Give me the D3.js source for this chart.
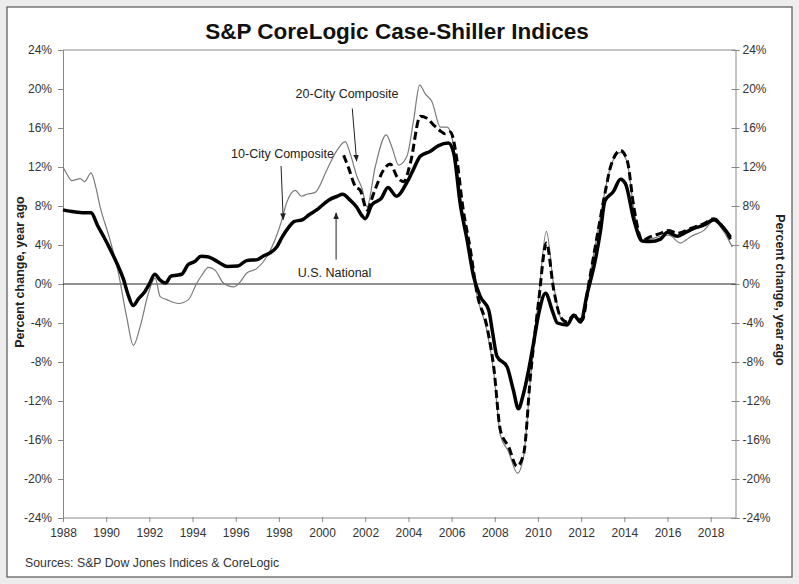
<!DOCTYPE html>
<html>
  <head>
    <meta charset='utf-8'>
    <style>
      body { margin: 0; background: #ededed; }
      svg { display: block; }
      text { font-family: "Liberation Sans", Arial, sans-serif; fill: #222; }
    </style>
  </head>
<body>
<div id="chart"></div>
<script src="https://d3js.org/d3.v7.min.js"></script>
<script type="text/javascript">

  // --------------------------- data (decimal year, % change y/y) --------------------------
  var national = [
    [1988.0,7.6],[1988.5,7.4],[1989.0,7.3],[1989.3,7.3],[1989.6,6.0],[1989.9,4.8],[1990.2,3.5],
    [1990.5,2.1],[1990.8,0.5],[1991.0,-1.0],[1991.25,-2.2],[1991.5,-1.5],[1991.75,-0.9],[1992.0,0.0],
    [1992.25,1.0],[1992.5,0.4],[1992.75,0.1],[1993.0,0.8],[1993.25,0.9],[1993.5,1.0],[1993.8,2.0],
    [1994.1,2.3],[1994.4,2.85],[1994.7,2.8],[1995.0,2.5],[1995.3,2.1],[1995.6,1.8],[1996.1,1.85],
    [1996.5,2.4],[1997.0,2.5],[1997.3,2.9],[1997.6,3.2],[1997.9,3.8],[1998.15,4.8],[1998.45,5.8],
    [1998.7,6.4],[1999.1,6.6],[1999.4,7.1],[1999.75,7.6],[2000.3,8.6],[2000.7,9.0],[2000.95,9.2],
    [2001.3,8.6],[2001.6,7.9],[2001.85,7.0],[2002.0,6.7],[2002.3,8.1],[2002.75,8.8],[2003.05,9.9],
    [2003.45,9.0],[2003.9,10.3],[2004.2,11.6],[2004.55,13.1],[2005.0,13.6],[2005.4,14.2],[2005.85,14.45],
    [2006.1,13.4],[2006.4,8.2],[2006.72,4.5],[2007.02,0.75],[2007.33,-1.3],[2007.72,-2.7],[2007.9,-5.0],
    [2008.1,-7.4],[2008.57,-8.5],[2008.85,-10.8],[2009.1,-12.8],[2009.3,-11.5],[2009.57,-8.8],[2009.8,-6.0],
    [2010.04,-3.0],[2010.35,-0.96],[2010.66,-2.7],[2010.9,-4.0],[2011.35,-4.2],[2011.66,-3.2],[2011.97,-3.9],
    [2012.28,-1.0],[2012.66,2.5],[2012.9,5.5],[2013.1,8.5],[2013.5,9.5],[2013.82,10.75],[2014.05,10.3],
    [2014.44,6.6],[2014.83,4.4],[2015.2,4.35],[2015.68,4.6],[2016.0,5.3],[2016.45,4.9],[2016.76,5.2],
    [2017.22,5.7],[2017.69,6.05],[2018.15,6.6],[2018.54,5.9],[2018.92,4.8]
  ];

  var city10 = [
    [1988.0,12.0],[1988.2,11.2],[1988.4,10.6],[1988.8,10.8],[1989.0,10.5],[1989.3,11.4],[1989.48,10.3],
    [1989.7,8.1],[1990.18,4.5],[1990.57,1.1],[1990.95,-3.4],[1991.26,-6.3],[1991.57,-4.4],[1991.95,-1.0],
    [1992.27,0.6],[1992.5,-1.3],[1992.8,-1.6],[1993.35,-2.0],[1993.81,-1.6],[1994.2,0.1],[1994.43,0.9],
    [1994.74,1.7],[1995.05,1.4],[1995.43,0.1],[1995.9,-0.3],[1996.2,0.2],[1996.5,1.1],[1996.98,1.6],
    [1997.44,2.8],[1997.9,5.0],[1998.1,6.3],[1998.37,8.4],[1998.76,9.6],[1999.05,9.0],[1999.3,9.2],
    [1999.68,9.4],[2000.22,11.7],[2000.69,13.7],[2001.07,14.6],[2001.3,13.4],[2001.62,11.0],[2001.85,9.8],
    [2002.08,7.9],[2002.46,12.0],[2002.97,15.3],[2003.24,14.0],[2003.55,12.2],[2003.93,13.1],[2004.24,16.8],
    [2004.52,20.4],[2004.78,19.5],[2005.09,18.7],[2005.48,16.1],[2005.79,16.1],[2006.0,15.2],[2006.25,11.7],
    [2006.5,7.5],[2006.87,3.0],[2007.18,-1.2],[2007.64,-4.8],[2007.95,-9.0],[2008.26,-15.5],[2008.64,-17.2],
    [2009.05,-19.4],[2009.34,-17.6],[2009.65,-9.8],[2010.04,-1.2],[2010.39,5.4],[2010.73,-0.2],[2011.04,-3.4],
    [2011.35,-4.1],[2011.66,-3.4],[2012.05,-3.6],[2012.36,0.3],[2012.82,6.0],[2013.13,9.8],[2013.36,12.0],
    [2013.82,13.5],[2014.13,12.5],[2014.44,7.7],[2014.83,4.4],[2015.22,4.6],[2015.68,4.9],[2016.07,5.0],
    [2016.6,4.2],[2016.85,4.5],[2017.07,4.85],[2017.69,5.5],[2018.15,6.5],[2018.54,5.6],[2019.0,3.8]
  ];

  var city20 = [
    [2001.0,13.2],[2001.23,11.9],[2001.54,10.0],[2001.77,9.6],[2002.08,7.6],[2002.39,9.3],[2002.85,11.7],
    [2003.16,12.3],[2003.47,11.0],[2003.78,10.5],[2004.09,12.4],[2004.55,17.2],[2004.86,17.0],[2005.17,16.3],
    [2005.48,15.7],[2005.7,15.4],[2005.94,15.6],[2006.25,12.7],[2006.5,8.2],[2006.87,3.5],[2007.18,-0.96],
    [2007.64,-4.4],[2007.95,-8.5],[2008.26,-15.0],[2008.64,-16.7],[2009.03,-18.7],[2009.34,-17.4],[2009.65,-9.5],
    [2010.04,-1.6],[2010.39,4.2],[2010.73,-0.6],[2011.04,-3.35],[2011.35,-3.9],[2011.66,-3.2],[2012.05,-3.7],
    [2012.36,0.1],[2012.82,5.9],[2013.13,9.6],[2013.36,12.0],[2013.82,13.7],[2014.13,12.7],[2014.44,7.9],
    [2014.83,4.5],[2015.22,4.85],[2015.68,5.2],[2016.07,5.5],[2016.45,5.2],[2017.07,5.7],[2017.69,6.2],
    [2018.15,6.7],[2018.54,5.9],[2018.92,4.6]
  ];

  var yearTicks = [1988,1990,1992,1994,1996,1998,2000,2002,2004,2006,2008,2010,2012,2014,2016,2018];
  var pctTicks = [-24,-20,-16,-12,-8,-4,0,4,8,12,16,20,24];

  // --------------------------- layout --------------------------
  var W = 799, H = 584;
  var margin = {top: 50, right: 63.5, bottom: 66, left: 63},
      width = W - margin.left - margin.right,
      height = H - margin.top - margin.bottom;

  var x = d3.scaleLinear().domain([1988, 2019.15]).range([0, width]);
  var y = d3.scaleLinear().domain([-24, 24]).range([height, 0]);

  var svg = d3.select("#chart").append("svg")
      .attr("width", W).attr("height", H);

  // frame
  svg.append("rect")
      .attr("x", 7).attr("y", 7).attr("width", 785).attr("height", 570)
      .attr("fill", "#fff").attr("stroke", "#555").attr("stroke-width", 1.2);

  svg.append("text")
      .attr("x", 397).attr("y", 39)
      .attr("text-anchor", "middle")
      .style("font-size", "22.5px").style("font-weight", "bold").style("fill", "#111")
      .text("S&P CoreLogic Case-Shiller Indices");

  var g = svg.append("g")
      .attr("transform", "translate(" + [margin.left, margin.top] + ")");

  // top border
  g.append("line")
      .attr("x1", 0).attr("x2", width).attr("y1", 0).attr("y2", 0)
      .attr("stroke", "#888").attr("stroke-width", 1);

  var yAxisL = d3.axisLeft(y).tickValues(pctTicks).tickSize(5).tickPadding(6)
      .tickFormat(function(d){ return d + "%"; });
  var yAxisR = d3.axisRight(y).tickValues(pctTicks).tickSize(4).tickPadding(3)
      .tickFormat(function(d){ return d + "%"; });
  var xAxis = d3.axisBottom(x).tickValues(yearTicks).tickSize(4).tickPadding(6)
      .tickFormat(d3.format("d"));

  function styleAxis(sel){
    sel.select(".domain").attr("stroke", "#888");
    sel.selectAll(".tick line").attr("stroke", "#888");
    sel.selectAll(".tick text").style("font-size", "12px").style("fill", "#333")
       .style("font-family", "'Liberation Sans', Arial, sans-serif");
  }

  g.append("g").attr("class", "y-axis").call(yAxisL).call(styleAxis);
  g.append("g").attr("class", "y-axis-r")
      .attr("transform", "translate(" + width + ",0)")
      .call(yAxisR).call(styleAxis)
      .selectAll(".tick line").attr("x1", -4);
  g.append("g").attr("class", "x-axis")
      .attr("transform", "translate(0," + height + ")")
      .call(xAxis).call(styleAxis)
      .selectAll(".tick line").attr("y1", -1);
  g.select(".x-axis .domain").remove();
  g.append("line")
      .attr("x1", 0).attr("x2", width).attr("y1", height).attr("y2", height)
      .attr("stroke", "#888");

  // zero line
  g.append("line")
      .attr("x1", 0).attr("x2", width).attr("y1", y(0)).attr("y2", y(0))
      .attr("stroke", "#222").attr("stroke-width", 1);

  // axis titles
  svg.append("text")
      .attr("transform", "translate(24,272) rotate(-90)")
      .attr("text-anchor", "middle")
      .style("font-size", "12.5px").style("font-weight", "bold")
      .text("Percent change, year ago");
  svg.append("text")
      .attr("transform", "translate(776,290) rotate(90)")
      .attr("text-anchor", "middle")
      .style("font-size", "12.5px").style("font-weight", "bold")
      .text("Percent change, year ago");

  // --------------------------- lines --------------------------
  var line = d3.line()
      .curve(d3.curveMonotoneX)
      .x(function(d){ return x(d[0]); })
      .y(function(d){ return y(d[1]); });

  g.append("path").datum(city10)
      .attr("d", line).attr("fill", "none")
      .attr("stroke", "#7a7a7a").attr("stroke-width", 1.2);

  g.append("path").datum(city20)
      .attr("d", line).attr("fill", "none")
      .attr("stroke", "#000").attr("stroke-width", 3)
      .attr("stroke-dasharray", "8,4");

  g.append("path").datum(national)
      .attr("d", line).attr("fill", "none")
      .attr("stroke", "#000").attr("stroke-width", 3.5)
      .attr("stroke-linejoin", "round");

  // --------------------------- annotations --------------------------
  svg.append("defs").append("marker")
      .attr("id", "arrow").attr("viewBox", "0 0 10 10")
      .attr("refX", 9).attr("refY", 5)
      .attr("markerWidth", 7).attr("markerHeight", 7)
      .attr("orient", "auto")
      .append("path").attr("d", "M0,1 L10,5 L0,9 Z").attr("fill", "#222");

  var notes = [
    {label: "20-City Composite", tx: 347, ty: 98, from: [2001.4, 18.0], to: [2001.6, 12.6]},
    {label: "10-City Composite", tx: 282.5, ty: 158, from: [1998.1, 12.1], to: [1998.2, 6.6]},
    {label: "U.S. National", tx: 334.5, ty: 277, from: [2000.65, 2.5], to: [2000.65, 7.3]}
  ];

  notes.forEach(function(n){
    svg.append("text")
        .attr("x", n.tx).attr("y", n.ty)
        .attr("text-anchor", "middle")
        .style("font-size", "12.5px").style("fill", "#222")
        .text(n.label);
    g.append("line")
        .attr("x1", x(n.from[0])).attr("y1", y(n.from[1]))
        .attr("x2", x(n.to[0])).attr("y2", y(n.to[1]))
        .attr("stroke", "#222").attr("stroke-width", 1)
        .attr("marker-end", "url(#arrow)");
  });

  svg.append("text")
      .attr("x", 25).attr("y", 567)
      .style("font-size", "12.3px").style("fill", "#333")
      .text("Sources:  S&P Dow Jones Indices & CoreLogic");

</script>
</body>
</html>
